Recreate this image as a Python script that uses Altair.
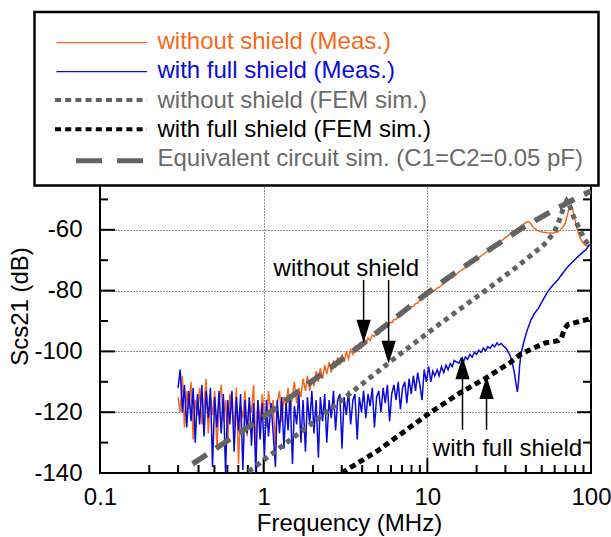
import altair as alt
import pandas as pd

# ---------------------------------------------------------------- data
# Measurement sweep (MHz) shared by both measured traces up to 15 MHz
meas_freq = [
    0.300, 0.309, 0.319, 0.328, 0.339, 0.349, 0.360, 0.371, 0.382, 0.394,
    0.406, 0.419, 0.432, 0.445, 0.459, 0.473, 0.487, 0.502, 0.518, 0.534,
    0.550, 0.567, 0.585, 0.603, 0.621, 0.640, 0.660, 0.681, 0.702, 0.723,
    0.746, 0.769, 0.792, 0.817, 0.842, 0.868, 0.895, 0.922, 0.951, 0.980,
    1.01, 1.04, 1.07, 1.11, 1.14, 1.18, 1.21, 1.25, 1.29, 1.33,
    1.37, 1.41, 1.45, 1.50, 1.54, 1.59, 1.64, 1.69, 1.74, 1.80,
    1.85, 1.91, 1.97, 2.03, 2.09, 2.16, 2.22, 2.29, 2.36, 2.43,
    2.51, 2.59, 2.67, 2.75, 2.83, 2.92, 3.01, 3.10, 3.20, 3.30,
    3.40, 3.51, 3.61, 3.73, 3.84, 3.96, 4.08, 4.21, 4.34, 4.47,
    4.61, 4.75, 4.90, 5.05, 5.21, 5.37, 5.53, 5.70, 5.88, 6.06,
    6.25, 6.44, 6.64, 6.85, 7.06, 7.28, 7.50, 7.73, 7.97, 8.22,
    8.47, 8.73, 9.00, 9.28, 9.57, 9.86, 10.2, 10.5, 10.8, 11.1,
    11.5, 11.8, 12.2, 12.6, 13.0, 13.4, 13.8, 14.2, 14.6, 15.1,
]
meas_unshielded_db = [
    -115, -120, -108, -125, -113, -119, -110, -129, -116, -121,
    -112, -124, -118, -109, -127, -115, -121, -113, -132, -117,
    -111, -123, -116, -130, -114, -119, -125, -112, -137, -118,
    -122, -113, -128, -117, -120, -111, -131, -116, -124, -114,
    -120, -125, -113, -121, -116, -131, -117, -113, -123, -115,
    -118, -112, -121, -114, -110, -117, -112, -115, -109, -113,
    -108, -113, -109, -111.5, -106.5, -110, -105.5, -109, -104.5, -107.5,
    -103.5, -107, -103, -105.5, -102, -104.5, -101, -103.5, -100, -102.5,
    -99.5, -101, -98.5, -99.8, -97.4, -98.8, -96.8, -97.5, -95.6, -96.4,
    -94.6, -95.2, -93.6, -94.1, -92.6, -92.8, -91.6, -91.9, -90.5, -90.6,
    -89.5, -89.5, -88.4, -88.5, -87.4, -87.3, -86.4, -86.3, -85.3, -85.2,
    -84.3, -84.1, -83.2, -83.1, -82.2, -82.0, -81.1, -81.0, -80.1, -80.0,
    -79.1, -79.0, -78.1, -77.8, -77.1, -76.7, -76.0, -75.7, -75.0, -74.6,
]
meas_shielded_db = [
    -112, -106, -120, -111, -125, -113, -123, -112, -130, -114,
    -124, -111, -128, -113, -122, -112, -138, -115, -125, -113,
    -127, -114, -140, -116, -124, -113, -133, -115, -126, -114,
    -139, -116, -127, -115, -131, -117, -140, -116, -129, -117,
    -135, -116, -128, -117, -126, -138, -116, -127, -115, -132,
    -117, -126, -114, -137, -118, -124, -114, -130, -116, -133,
    -115, -124, -113, -127, -116, -135, -115, -123, -114, -130,
    -116, -122, -113, -126, -116, -114, -132, -115, -121, -113,
    -124, -116, -114, -129, -115, -120, -113, -122, -114, -118,
    -112, -125, -115, -113, -120, -112, -117, -111, -123, -114,
    -111, -116, -110, -119, -112, -110, -117, -109, -114, -108,
    -113, -107, -111, -116, -106, -110, -105, -110, -106.5, -108,
    -106, -108, -105, -107, -104.5, -106, -104, -105, -103, -103.5,
]

# Upper part of the sweep for each measured trace
unshielded_tail_freq = [15.8, 16.6, 17.5, 18.5, 19.6, 21, 23, 25, 27.5, 30,
                        32.5, 35, 37.5, 40, 41.5, 43, 44.5, 47, 50, 54,
                        58, 62, 65, 67.5, 69.5, 71.5, 73, 75, 77, 79,
                        81, 84, 87, 91, 95, 98]
unshielded_tail_db = [-73.6, -72.9, -71.8, -71.0, -69.9, -68.8, -67.3, -65.8, -64.2, -62.6,
                      -61.3, -59.9, -58.6, -57.6, -57.3, -58.0, -59.2, -60.2, -60.7, -61.0,
                      -61.1, -60.7, -60.0, -59.0, -57.8, -55.5, -53.4, -52.4, -53.2, -55.5,
                      -58.3, -61.3, -63.4, -64.8, -65.4, -64.8]
shielded_tail_freq = [15.6, 16.1, 16.6, 17.1, 17.6, 18.2, 18.8, 19.4, 20.0, 20.6,
                      21.3, 22.0, 22.7, 23.4, 24.2, 25.0, 25.8, 26.6, 27.4, 28.3,
                      29.2, 30.1, 31.0, 32.0, 33.0, 34.0, 34.8, 35.5, 36.0, 36.6,
                      37.3, 38.2, 39.5, 41, 43, 45, 47.9, 51, 54.3, 58,
                      62.6, 67, 72, 77, 83, 88, 93, 98]
shielded_tail_db = [-103.8, -102.2, -103.5, -101.8, -102.6, -101.0, -101.9, -100.3, -101.0, -99.6,
                    -100.3, -98.9, -99.8, -98.4, -99.0, -97.8, -98.5, -97.2, -97.9, -97.4,
                    -98.3, -98.8, -99.9, -101.3, -103.5, -107.0, -110.5, -113.3, -110.5, -105.0,
                    -101.0, -98.5, -95.5, -92.6, -89.6, -87.6, -85.7, -83.0, -80.4, -78.4,
                    -76.5, -74.4, -72.2, -70.6, -68.9, -67.6, -66.6, -64.8]

# FEM simulations
fem_unshielded_freq = [0.81, 1.06, 2.0, 6.0, 10, 15.9, 23.3, 35.6, 51.4, 59.4,
                       65, 68, 71, 74, 78, 83, 90, 97]
fem_unshielded_db = [-139.5, -134.7, -123.5, -103.2, -94.0, -86.0, -79.5, -72.0, -65.0, -61.0,
                     -56.0, -52.5, -50.5, -52.0, -55.5, -58.5, -62.5, -65.3]
fem_shielded_freq = [3.0, 5.0, 10.5, 16, 23.4, 32.4, 37, 44.6, 52.6, 63,
                     66, 69, 72, 83, 100]
fem_shielded_db = [-140, -132.6, -120, -113.5, -108.4, -103.5, -101, -98.9, -97.2, -96.5,
                   -95.5, -92.5, -91.2, -90.3, -89.2]

# Equivalent circuit simulation (C1 = C2 = 0.05 pF)
circuit_freq = [0.368, 1.0, 3.81, 7.9, 12.1, 16.7, 25.4, 37.2, 56.7, 86.4, 100]
circuit_db = [-137, -121.5, -98.5, -85.0, -77.4, -72.2, -65.6, -59.7, -54.1, -48.8, -47.3]

# Annotation arrows
down_arrow_freq = [4.08, 5.8]
down_arrow_top = [-76.5, -76.5]
down_arrow_head = [-93.4, -100.3]
up_arrow_freq = [16.4, 23.0]
up_arrow_bottom = [-125.8, -125.8]
up_arrow_head = [-105.4, -111.9]

# Axis ticks
x_label_values = [0.1, 1, 10, 100]
y_label_values = [-140, -120, -100, -80, -60]
x_minor_ticks = [0.2, 0.3, 0.4, 0.5, 0.6, 0.7, 0.8, 0.9,
                 2, 3, 4, 5, 6, 7, 8, 9, 20, 30, 40, 50, 60, 70, 80, 90]
x_major_ticks = [1, 10]
y_major_ticks = [-120, -100, -80, -60]
y_minor_ticks = [-130, -110, -90, -70, -50]

legend_labels = [
    "without shield (Meas.)",
    "with full shield (Meas.)",
    "without shield (FEM sim.)",
    "with full shield (FEM sim.)",
    "Equivalent circuit sim. (C1=C2=0.05 pF)",
]

# ---------------------------------------------------------------- style
W, H = 491, 304
FONT = "Liberation Sans"
FS = 24
ORANGE = "#F26A1B"
BLUE = "#0A0ADC"
GRAY = "#636363"
GRAY_TXT = "#6a6a6a"

xscale = alt.Scale(type="log", domain=[0.1, 100])
yscale = alt.Scale(domain=[-140, -40])

xaxis = alt.Axis(
    title="Frequency (MHz)", values=x_label_values, format="~g",
    labelFlush=False, labelOverlap=False, labelBound=False,
    ticks=False, tickSize=0, domain=False,
    grid=True, gridDash=[1, 2], gridColor="black", gridWidth=1, gridOpacity=0.9,
    labelFont=FONT, labelFontSize=FS, labelColor="black", labelPadding=12,
    titleFont=FONT, titleFontSize=FS, titleFontWeight="normal", titleColor="black",
    titleX=249, titleY=38, titleBaseline="top", titleAlign="center",
)
yaxis = alt.Axis(
    title="Scs21 (dB)", values=y_label_values, labelExpr="'' + datum.value",
    ticks=False, tickSize=0, domain=False,
    grid=True, gridDash=[1, 2], gridColor="black", gridWidth=1, gridOpacity=0.9,
    labelFont=FONT, labelFontSize=FS, labelColor="black", labelPadding=18,
    titleFont=FONT, titleFontSize=FS, titleFontWeight="normal", titleColor="black",
    titleAngle=270, titleX=-73, titleY=137, titleAlign="center",
    titleBaseline="alphabetic",
)

X = alt.X("f:Q", scale=xscale, axis=xaxis)
Y = alt.Y("db:Q", scale=yscale, axis=yaxis)


def curve(freq, db, color, width, dash=None):
    df = pd.DataFrame({"f": freq, "db": db})
    kw = dict(color=color, strokeWidth=width, clip=True, strokeCap="butt")
    if dash is not None:
        kw["strokeDash"] = dash
    return alt.Chart(df).mark_line(**kw).encode(x=X, y=Y)


layers = []

# axis ticks pointing into the plot
def tick_rules(vals, axis_side, length):
    if axis_side in ("left", "right"):
        df = pd.DataFrame({"db": vals})
        x0 = 0 if axis_side == "left" else W
        x1 = length if axis_side == "left" else W - length
        return alt.Chart(df).mark_rule(color="black", strokeWidth=2).encode(
            y=Y, x=alt.value(x0), x2=alt.value(x1))
    df = pd.DataFrame({"f": vals})
    return alt.Chart(df).mark_rule(color="black", strokeWidth=2).encode(
        x=X, y=alt.value(H), y2=alt.value(H - length))


layers += [
    tick_rules(y_major_ticks, "left", 15),
    tick_rules(y_minor_ticks, "left", 8),
    tick_rules(y_major_ticks, "right", 14),
    tick_rules(y_minor_ticks, "right", 8),
    tick_rules(x_major_ticks, "bottom", 15),
    tick_rules(x_minor_ticks, "bottom", 8),
]

# measured traces
layers.append(curve(meas_freq + unshielded_tail_freq,
                    meas_unshielded_db + unshielded_tail_db, ORANGE, 1.5))
layers.append(curve(meas_freq + shielded_tail_freq,
                    meas_shielded_db + shielded_tail_db, BLUE, 1.5))
# simulations
layers.append(curve(fem_shielded_freq, fem_shielded_db, "black", 5, [6, 4]))
layers.append(curve(fem_unshielded_freq, fem_unshielded_db, GRAY, 5, [5, 4.5]))
layers.append(curve(circuit_freq, circuit_db, GRAY, 5.5, [17, 11]))

# annotation arrows
down_df = pd.DataFrame({"f": down_arrow_freq, "db": down_arrow_top, "db2": down_arrow_head})
up_df = pd.DataFrame({"f": up_arrow_freq, "db": up_arrow_bottom, "db2": up_arrow_head})
for adf, shape in ((down_df, "M-0.62,-1L0.62,-1L0,1Z"), (up_df, "M0,-1L0.62,1L-0.62,1Z")):
    layers.append(alt.Chart(adf).mark_rule(color="black", strokeWidth=1.5).encode(
        x=X, y=Y, y2="db2:Q"))
    layers.append(alt.Chart(adf).mark_point(shape=shape, filled=True, size=529,
                                            color="black", opacity=1).encode(
        x=X, y=alt.Y("db2:Q", scale=yscale, axis=yaxis)))

notes_df = pd.DataFrame({"f": [1.15, 10.8], "db": [-75.3, -134.4],
                         "txt": ["without shield", "with full shield"]})
layers.append(alt.Chart(notes_df).mark_text(
    font=FONT, fontSize=FS, color="black", align="left", baseline="alphabetic"
).encode(x=X, y=Y, text="txt:N"))

# legend box
one = pd.DataFrame({"k": [0]})
layers.append(alt.Chart(one).mark_rect(fill="white", stroke="black", strokeWidth=2.5).encode(
    x=alt.value(-65.5), x2=alt.value(498.5), y=alt.value(-157), y2=alt.value(16.5)))

legend_lines = [
    (-126.3, ORANGE, 1.2, None, -43.5),
    (-97.3, BLUE, 1.2, None, -43.5),
    (-69.0, GRAY, 4, [6, 4.2], -45),
    (-39.7, "black", 4, [6, 4.2], -45),
    (-8.3, GRAY, 5, [26, 15], -24),
]
legend_text = [
    (-120.3, ORANGE),
    (-90.9, BLUE),
    (-61.5, GRAY_TXT),
    (-32.1, "black"),
    (-2.7, GRAY_TXT),
]
for (ly, col, sw, dash, x0), (ty, tcol), label in zip(legend_lines, legend_text, legend_labels):
    kw = dict(color=col, strokeWidth=sw, strokeCap="butt")
    if dash is not None:
        kw["strokeDash"] = dash
    layers.append(alt.Chart(one).mark_rule(**kw).encode(
        x=alt.value(x0), x2=alt.value(47), y=alt.value(ly)))
    layers.append(alt.Chart(one).mark_text(
        text=label, font=FONT, fontSize=FS, color=tcol, align="left", baseline="alphabetic"
    ).encode(x=alt.value(57.5), y=alt.value(ty)))

chart = alt.layer(*layers).properties(
    width=W, height=H,
    padding={"left": 100, "top": 169, "right": 20, "bottom": 64},
    autosize=alt.AutoSizeParams(type="none"),
    background="white",
).configure_view(stroke="black", strokeWidth=2)

chart.save("out.html", embed_options={"renderer": "svg", "actions": False})
